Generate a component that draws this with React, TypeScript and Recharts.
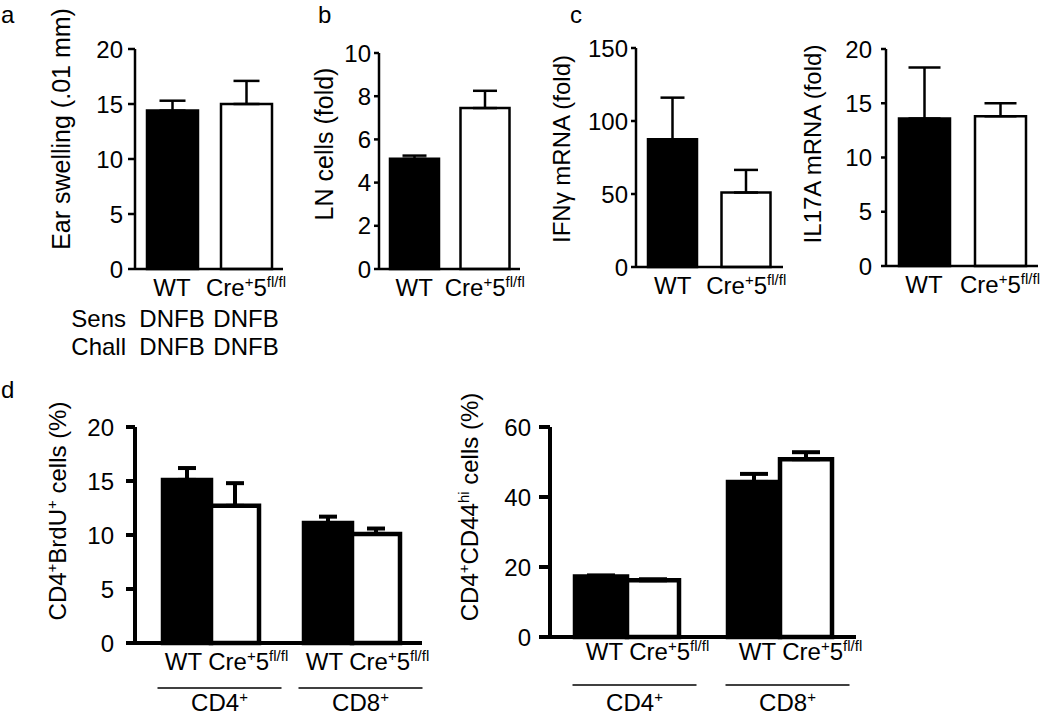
import React from 'react';
import { BarChart, Bar, XAxis, YAxis, ErrorBar, Cell } from 'recharts';

const FONT = '"Liberation Sans", Arial, Helvetica, sans-serif';

// ---------- shared categories ----------
const genotypes = ['WT', 'Cre+5fl/fl'];
const genotypeFills = ['#000000', '#ffffff'];
const subsets = ['CD4+', 'CD8+'];

// ---------- panel a : ear swelling ----------
const earSwelling = [14.4, 15.0];
const earSwellingErr = [0.9, 2.1];
const earTicks = [0, 5, 10, 15, 20];
const sensRow = ['DNFB', 'DNFB'];
const challRow = ['DNFB', 'DNFB'];

// ---------- panel b : LN cells ----------
const lnCells = [5.1, 7.45];
const lnCellsErr = [0.15, 0.8];
const lnTicks = [0, 2, 4, 6, 8, 10];

// ---------- panel c : mRNA ----------
const ifngMrna = [87.5, 51];
const ifngErr = [28.5, 15.5];
const ifngTicks = [0, 50, 100, 150];
const il17aMrna = [13.6, 13.8];
const il17aErr = [4.7, 1.2];
const il17aTicks = [0, 5, 10, 15, 20];

// ---------- panel d ----------
const brduWT = [15.1, 11.1];
const brduWTErr = [1.1, 0.6];
const brduCre = [12.7, 10.1];
const brduCreErr = [2.1, 0.5];
const brduTicks = [0, 5, 10, 15, 20];
const cd44WT = [17.3, 44.3];
const cd44WTErr = [0.3, 2.3];
const cd44Cre = [16.2, 50.8];
const cd44CreErr = [0.3, 2.0];
const cd44Ticks = [0, 20, 40, 60];

// rich text with superscripts
type Part = { t: string; sup?: boolean };
const richText: Record<string, Part[]> = {
  'Cre+5fl/fl': [{ t: 'Cre' }, { t: '+', sup: true }, { t: '5' }, { t: 'fl/fl', sup: true }],
  'CD4+': [{ t: 'CD4' }, { t: '+', sup: true }],
  'CD8+': [{ t: 'CD8' }, { t: '+', sup: true }],
  'CD4+BrdU+ cells (%)': [{ t: 'CD4' }, { t: '+', sup: true }, { t: 'BrdU' }, { t: '+', sup: true }, { t: ' cells (%)' }],
  'CD4+CD44hi cells (%)': [{ t: 'CD4' }, { t: '+', sup: true }, { t: 'CD44' }, { t: 'hi', sup: true }, { t: ' cells (%)' }],
};

function rich(label: string, size: number) {
  const parts = richText[label] ?? [{ t: label }];
  const supSize = Math.round(size * 0.64);
  const shift = size * 0.36;
  let cur = 0;
  const out = parts.map((p, i) => {
    const target = p.sup ? -shift : 0;
    const dy = target - cur;
    cur = target;
    return (
      <tspan key={i} dy={dy} fontSize={p.sup ? supSize : size}>
        {p.t}
      </tspan>
    );
  });
  return out;
}

const genotypeData = (vals: number[], errs: number[]) =>
  genotypes.map((g, i) => ({ name: g, value: vals[i], err: [0, errs[i]] }));

const subsetData = (wt: number[], wtE: number[], cre: number[], creE: number[]) =>
  subsets.map((s, i) => ({ name: s, wt: wt[i], wtErr: [0, wtE[i]], cre: cre[i], creErr: [0, creE[i]] }));

const makeYLabel = (label: string, cx: number, cy: number, size: number) => () => (
  <text
    x={cx}
    y={cy}
    dy="0.36em"
    transform={`rotate(-90 ${cx} ${cy})`}
    textAnchor="middle"
    fontFamily={FONT}
    fontSize={size}
    fill="#000"
  >
    {rich(label, size)}
  </text>
);

type Row = { head: string; values: string[] };
const makeGenotypeTick = (rows?: Row[]) => (p: any) => {
  const { x, y, payload, index } = p;
  return (
    <g>
      <text x={x} y={y + 27} textAnchor="middle" fontSize={24} fontFamily={FONT} fill="#000">
        {rich(String(payload.value), 24)}
      </text>
      {rows &&
        rows.map((r, ri) => (
          <g key={ri}>
            <text x={x} y={y + 58 + ri * 28} textAnchor="middle" fontSize={24} fontFamily={FONT} fill="#000">
              {r.values[index]}
            </text>
            {index === 0 && (
              <text x={x - 46} y={y + 58 + ri * 28} textAnchor="end" fontSize={24} fontFamily={FONT} fill="#000">
                {r.head}
              </text>
            )}
          </g>
        ))}
    </g>
  );
};

const makeSubsetTick = (textDy: number, textDx: number, lineDy: number, lineDx: number, labelDy: number) => (p: any) => {
  const { x, y, payload } = p;
  return (
    <g>
      <text x={x + textDx} y={y + textDy} textAnchor="middle" fontSize={24} fontFamily={FONT} fill="#000">
        <tspan>{genotypes[0] + ' '}</tspan>
        {rich(genotypes[1], 24)}
      </text>
      <line x1={x + lineDx - 62} x2={x + lineDx + 62} y1={y + lineDy} y2={y + lineDy} stroke="#000" strokeWidth={1.5} />
      <text x={x + lineDx} y={y + labelDy} textAnchor="middle" fontSize={24} fontFamily={FONT} fill="#000">
        {rich(String(payload.value), 24)}
      </text>
    </g>
  );
};

type SimpleProps = {
  left: number;
  top: number;
  width: number;
  height: number;
  marginTop: number;
  marginRight: number;
  yWidth: number;
  xHeight: number;
  ticks: number[];
  data: any[];
  barSize: number;
  cap: number;
  label: string;
  labelX: number;
  labelY: number;
  labelSize: number;
  tickSize: number;
  tickMargin: number;
  rows?: Row[];
};

function SimplePanel(pp: SimpleProps) {
  const max = pp.ticks[pp.ticks.length - 1];
  return (
    <div style={{ position: 'absolute', left: pp.left, top: pp.top }}>
      <BarChart
        width={pp.width}
        height={pp.height}
        data={pp.data}
        margin={{ top: pp.marginTop, right: pp.marginRight, left: 0, bottom: 0 }}
        barCategoryGap={0}
      >
        <XAxis
          dataKey="name"
          height={pp.xHeight}
          axisLine={{ stroke: '#000', strokeWidth: 2.5 }}
          tickLine={false}
          tickSize={0}
          tickMargin={0}
          interval={0}
          tick={makeGenotypeTick(pp.rows)}
        />
        <YAxis
          width={pp.yWidth}
          domain={[0, max]}
          ticks={pp.ticks}
          interval={0}
          axisLine={{ stroke: '#000', strokeWidth: 2.5 }}
          tickLine={{ stroke: '#000', strokeWidth: 2.5 }}
          tickSize={pp.tickSize}
          tickMargin={pp.tickMargin}
          tick={{ fill: '#000', fontSize: 24, fontFamily: FONT }}
          label={makeYLabel(pp.label, pp.labelX, pp.labelY, pp.labelSize)}
        />
        <Bar dataKey="value" barSize={pp.barSize} stroke="#000" strokeWidth={2.5} isAnimationActive={false}>
          {pp.data.map((_, i) => (
            <Cell key={i} fill={genotypeFills[i]} />
          ))}
          <ErrorBar dataKey="err" width={pp.cap} stroke="#000" strokeWidth={2.5} direction="y" isAnimationActive={false} />
        </Bar>
      </BarChart>
    </div>
  );
}

type GroupProps = {
  left: number;
  top: number;
  width: number;
  height: number;
  marginTop: number;
  marginRight: number;
  yWidth: number;
  xHeight: number;
  padLeft: number;
  ticks: number[];
  data: any[];
  barSize: number;
  cap: number;
  label: string;
  labelX: number;
  labelY: number;
  tickSize: number;
  tickMargin: number;
  tickFont: number;
  sub: [number, number, number, number, number];
};

function GroupPanel(pp: GroupProps) {
  const max = pp.ticks[pp.ticks.length - 1];
  return (
    <div style={{ position: 'absolute', left: pp.left, top: pp.top }}>
      <BarChart
        width={pp.width}
        height={pp.height}
        data={pp.data}
        margin={{ top: pp.marginTop, right: pp.marginRight, left: 0, bottom: 0 }}
        barGap={0}
        barCategoryGap={0}
      >
        <XAxis
          dataKey="name"
          height={pp.xHeight}
          padding={{ left: pp.padLeft, right: 0 }}
          axisLine={{ stroke: '#000', strokeWidth: 4 }}
          tickLine={false}
          tickSize={0}
          tickMargin={0}
          interval={0}
          tick={makeSubsetTick(...pp.sub)}
        />
        <YAxis
          width={pp.yWidth}
          domain={[0, max]}
          ticks={pp.ticks}
          interval={0}
          axisLine={{ stroke: '#000', strokeWidth: 4 }}
          tickLine={{ stroke: '#000', strokeWidth: 4 }}
          tickSize={pp.tickSize}
          tickMargin={pp.tickMargin}
          tick={{ fill: '#000', fontSize: pp.tickFont, fontFamily: FONT }}
          label={makeYLabel(pp.label, pp.labelX, pp.labelY, 24)}
        />
        <Bar dataKey="wt" fill="#000" stroke="#000" strokeWidth={4.5} barSize={pp.barSize} isAnimationActive={false}>
          <ErrorBar dataKey="wtErr" width={pp.cap} stroke="#000" strokeWidth={4} direction="y" isAnimationActive={false} />
        </Bar>
        <Bar dataKey="cre" fill="#fff" stroke="#000" strokeWidth={4.5} barSize={pp.barSize} isAnimationActive={false}>
          <ErrorBar dataKey="creErr" width={pp.cap} stroke="#000" strokeWidth={4} direction="y" isAnimationActive={false} />
        </Bar>
      </BarChart>
    </div>
  );
}

const letters = [
  { t: 'a', x: 1, y: 23 },
  { t: 'b', x: 318, y: 23 },
  { t: 'c', x: 570, y: 23 },
  { t: 'd', x: 1, y: 398 },
];

export default function App() {
  return (
    <div
      style={{
        position: 'absolute',
        left: 0,
        top: 0,
        width: 1050,
        height: 716,
        background: '#fff',
        overflow: 'hidden',
        fontFamily: FONT,
      }}
    >
      <SimplePanel
        left={0}
        top={0}
        width={300}
        height={370}
        marginTop={49}
        marginRight={17}
        yWidth={135}
        xHeight={101}
        ticks={earTicks}
        data={genotypeData(earSwelling, earSwellingErr)}
        barSize={51}
        cap={13}
        label="Ear swelling (.01 mm)"
        labelX={70}
        labelY={129}
        labelSize={25}
        tickSize={7}
        tickMargin={5}
        rows={[
          { head: 'Sens', values: sensRow },
          { head: 'Chall', values: challRow },
        ]}
      />
      <SimplePanel
        left={300}
        top={0}
        width={230}
        height={310}
        marginTop={53}
        marginRight={10}
        yWidth={79}
        xHeight={41}
        ticks={lnTicks}
        data={genotypeData(lnCells, lnCellsErr)}
        barSize={49}
        cap={12}
        label="LN cells (fold)"
        labelX={33}
        labelY={144}
        labelSize={25}
        tickSize={5}
        tickMargin={3}
      />
      <SimplePanel
        left={540}
        top={0}
        width={250}
        height={310}
        marginTop={48}
        marginRight={7}
        yWidth={96}
        xHeight={43}
        ticks={ifngTicks}
        data={genotypeData(ifngMrna, ifngErr)}
        barSize={49}
        cap={12}
        label="IFNγ mRNA (fold)"
        labelX={30}
        labelY={149}
        labelSize={24}
        tickSize={5}
        tickMargin={3}
      />
      <SimplePanel
        left={790}
        top={0}
        width={260}
        height={310}
        marginTop={49}
        marginRight={12}
        yWidth={96}
        xHeight={44}
        ticks={il17aTicks}
        data={genotypeData(il17aMrna, il17aErr)}
        barSize={51}
        cap={16}
        label="IL17A mRNA (fold)"
        labelX={31}
        labelY={144}
        labelSize={24}
        tickSize={5}
        tickMargin={9}
      />
      <GroupPanel
        left={0}
        top={380}
        width={440}
        height={336}
        marginTop={47}
        marginRight={18}
        yWidth={135}
        xHeight={73}
        padLeft={5}
        ticks={brduTicks}
        data={subsetData(brduWT, brduWTErr, brduCre, brduCreErr)}
        barSize={48}
        cap={9}
        label="CD4+BrdU+ cells (%)"
        labelX={66}
        labelY={131}
        tickSize={9}
        tickMargin={12}
        tickFont={24}
        sub={[27, 16, 45, 9, 68]}
      />
      <GroupPanel
        left={440}
        top={380}
        width={440}
        height={336}
        marginTop={47}
        marginRight={24}
        yWidth={110}
        xHeight={79}
        padLeft={0}
        ticks={cd44Ticks}
        data={subsetData(cd44WT, cd44WTErr, cd44Cre, cd44CreErr)}
        barSize={52}
        cap={14}
        label="CD4+CD44hi cells (%)"
        labelX={38}
        labelY={127}
        tickSize={11}
        tickMargin={8}
        tickFont={24}
        sub={[23, 21, 48, 8, 74]}
      />
      <svg width={1050} height={716} style={{ position: 'absolute', left: 0, top: 0, pointerEvents: 'none' }}>
        {letters.map((l) => (
          <text key={l.t} x={l.x} y={l.y} fontSize={24} fontFamily={FONT} fill="#000">
            {l.t}
          </text>
        ))}
      </svg>
    </div>
  );
}
